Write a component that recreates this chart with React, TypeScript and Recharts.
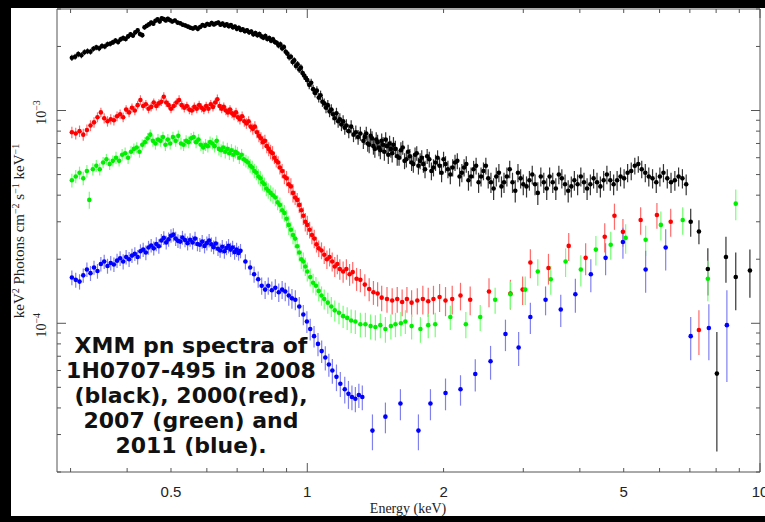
import { ScatterChart, Scatter, XAxis, YAxis, ErrorBar } from "recharts";

// energy (keV), flux (1e-4 keV^2 photons cm^-2 s^-1 keV^-1), error (same units)
const BLACK: [number, number, number][] = [
  [0.302, 17.7, 0.6], [0.307, 17.9, 0.6], [0.312, 18.4, 0.6], [0.317, 18.2, 0.6], [0.322, 18.8, 0.6], [0.327, 19.0, 0.6],
  [0.332, 18.9, 0.6], [0.337, 19.5, 0.6], [0.342, 19.8, 0.6], [0.347, 19.6, 0.6], [0.352, 20.1, 0.6], [0.357, 20.0, 0.6],
  [0.362, 20.5, 0.6], [0.367, 20.6, 0.6], [0.372, 20.9, 0.6], [0.377, 21.3, 0.6], [0.382, 21.0, 0.6], [0.387, 21.6, 0.6],
  [0.392, 21.9, 0.6], [0.397, 21.7, 0.6], [0.402, 22.3, 0.6], [0.407, 22.8, 0.6], [0.412, 22.5, 0.6], [0.417, 23.3, 0.6],
  [0.422, 23.8, 0.6], [0.427, 22.9, 0.6], [0.432, 22.6, 0.6], [0.437, 24.6, 0.6], [0.442, 25.0, 0.6], [0.447, 25.4, 0.6],
  [0.452, 25.9, 0.6], [0.457, 25.6, 0.6], [0.462, 26.4, 0.6], [0.467, 26.8, 0.6], [0.472, 26.2, 0.6], [0.477, 27.1, 0.6],
  [0.482, 26.9, 0.6], [0.487, 26.5, 0.6], [0.492, 27.0, 0.6], [0.497, 26.6, 0.6], [0.503, 26.2, 0.6], [0.51, 26.5, 0.6],
  [0.517, 25.9, 0.6], [0.524, 25.7, 0.6], [0.531, 25.3, 0.6], [0.538, 25.1, 0.6], [0.545, 24.8, 0.6], [0.552, 24.5, 0.6],
  [0.559, 24.3, 0.6], [0.566, 24.6, 0.6], [0.573, 24.2, 0.6], [0.58, 24.7, 0.6], [0.587, 25.2, 0.6], [0.594, 25.0, 0.6],
  [0.601, 25.5, 0.6], [0.608, 25.3, 0.6], [0.615, 25.8, 0.6], [0.622, 25.4, 0.6], [0.629, 25.7, 0.6], [0.636, 25.9, 0.6],
  [0.643, 25.3, 0.6], [0.65, 25.6, 0.6], [0.657, 25.1, 0.6], [0.664, 25.4, 0.6], [0.671, 24.9, 0.6], [0.678, 25.2, 0.6],
  [0.685, 24.6, 0.6], [0.692, 24.8, 0.6], [0.699, 24.2, 0.6], [0.706, 24.5, 0.6], [0.713, 23.9, 0.6], [0.72, 24.1, 0.6],
  [0.728, 23.6, 0.6], [0.736, 23.8, 0.6], [0.744, 23.3, 0.6], [0.752, 23.5, 0.6], [0.76, 22.8, 0.6], [0.768, 23.1, 0.6],
  [0.776, 22.6, 0.6], [0.784, 22.9, 0.6], [0.792, 22.3, 0.6], [0.8, 22.0, 0.6], [0.808, 22.4, 0.6], [0.816, 21.7, 0.6],
  [0.824, 21.9, 0.6], [0.832, 21.3, 0.6], [0.84, 21.6, 0.6], [0.848, 21.0, 0.6], [0.856, 20.8, 0.6], [0.864, 20.2, 0.6],
  [0.872, 20.5, 0.6], [0.88, 19.6, 0.6], [0.888, 19.9, 0.6], [0.896, 18.9, 0.6], [0.904, 18.5, 0.6], [0.912, 17.8, 0.6],
  [0.92, 17.9, 0.6], [0.928, 16.9, 0.6], [0.936, 17.2, 0.6], [0.944, 16.2, 0.6], [0.952, 16.5, 0.6], [0.96, 15.6, 0.6],
  [0.968, 15.9, 0.6], [0.976, 15.0, 0.6], [0.984, 14.6, 0.6], [0.992, 14.2, 0.6], [1.0, 13.9, 0.6], [1.01, 13.2, 0.6],
  [1.02, 13.5, 0.6], [1.03, 12.6, 0.6], [1.04, 12.1, 0.6], [1.05, 12.4, 0.6], [1.06, 11.5, 0.6], [1.07, 11.8, 0.6],
  [1.08, 11.0, 0.6], [1.09, 10.8, 0.6], [1.1, 10.3, 0.6], [1.11, 10.6, 0.6], [1.12, 9.9, 0.6], [1.13, 10.1, 0.6],
  [1.14, 9.6, 0.6], [1.15, 9.2, 0.6], [1.16, 9.7, 0.6], [1.17, 8.9, 0.6], [1.18, 9.1, 0.6], [1.19, 8.6, 0.6],
  [1.2, 8.9, 0.6], [1.21, 8.3, 0.6], [1.22, 8.5, 0.6], [1.235, 8.0, 0.6], [1.25, 8.4, 0.6], [1.265, 7.7, 0.6],
  [1.28, 7.9, 0.6], [1.295, 7.5, 0.6], [1.31, 7.8, 0.6], [1.33, 7.2, 0.6], [1.35, 7.8, 0.6], [1.37, 6.9, 0.6],
  [1.39, 7.4, 0.6], [1.41, 6.6, 0.6], [1.43, 7.1, 0.6], [1.45, 6.5, 0.6], [1.47, 6.9, 0.6], [1.49, 7.3, 0.6],
  [1.51, 6.2, 0.6], [1.53, 6.6, 0.6], [1.55, 6.9, 0.6], [1.58, 6.1, 0.6], [1.61, 6.5, 0.6], [1.64, 5.8, 0.5],
  [1.67, 6.4, 0.5], [1.7, 5.7, 0.5], [1.73, 6.2, 0.5], [1.76, 5.5, 0.5], [1.79, 6.0, 0.5], [1.82, 5.3, 0.5],
  [1.86, 5.9, 0.5], [1.9, 5.4, 0.5], [1.94, 6.0, 0.5], [1.98, 5.1, 0.5], [2.02, 5.6, 0.5], [2.07, 5.0, 0.5],
  [2.12, 5.7, 0.5], [2.17, 4.9, 0.5], [2.22, 5.4, 0.5], [2.27, 4.7, 0.5], [2.33, 5.3, 0.5], [2.39, 4.6, 0.5],
  [2.45, 5.2, 0.5], [2.51, 4.8, 0.5], [2.58, 4.3, 0.5], [2.65, 5.1, 0.5], [2.72, 4.6, 0.5], [2.8, 5.3, 0.5],
  [2.88, 4.2, 0.5], [2.96, 4.8, 0.5], [3.05, 4.4, 0.5], [3.14, 5.0, 0.5], [3.23, 4.1, 0.5], [3.33, 4.6, 0.5],
  [3.43, 4.9, 0.5], [3.54, 4.3, 0.5], [3.65, 4.8, 0.5], [3.77, 4.2, 0.5], [3.89, 4.7, 0.5], [4.02, 4.9, 0.5],
  [4.15, 4.3, 0.5], [4.29, 4.8, 0.5], [4.44, 4.4, 0.5], [4.59, 5.0, 0.5], [4.75, 4.5, 0.5], [4.92, 4.9, 0.5],
  [5.1, 5.1, 0.5], [5.29, 5.5, 0.5], [5.48, 5.3, 0.5], [5.68, 4.9, 0.5], [5.9, 4.6, 0.5], [6.12, 5.1, 0.5],
  [6.36, 4.6, 0.5], [6.61, 4.9, 0.5], [6.87, 4.5, 0.5],
  // interleaved bins of the crowded 1.3-7 keV band
  [1.34, 7.5, 0.6], [1.36, 7.0, 0.6], [1.38, 7.6, 0.6], [1.4, 6.8, 0.6], [1.42, 7.3, 0.6], [1.44, 6.7, 0.6],
  [1.46, 7.2, 0.6], [1.48, 6.4, 0.6], [1.5, 6.8, 0.6], [1.52, 7.0, 0.6], [1.54, 6.3, 0.6], [1.565, 6.6, 0.6],
  [1.595, 6.0, 0.5], [1.625, 6.7, 0.5], [1.655, 5.9, 0.5], [1.685, 6.1, 0.5], [1.715, 5.6, 0.5], [1.745, 6.3, 0.5],
  [1.775, 5.8, 0.5], [1.805, 5.6, 0.5], [1.84, 6.1, 0.5], [1.88, 5.2, 0.5], [1.92, 5.7, 0.5], [1.96, 5.5, 0.5],
  [2.0, 5.9, 0.5], [2.045, 5.3, 0.5], [2.095, 5.4, 0.5], [2.145, 5.8, 0.5], [2.195, 5.1, 0.5], [2.245, 5.6, 0.5],
  [2.3, 4.9, 0.5], [2.36, 5.5, 0.5], [2.42, 4.9, 0.5], [2.48, 5.5, 0.5], [2.545, 4.6, 0.5], [2.615, 4.9, 0.5],
  [2.685, 4.4, 0.5], [2.76, 4.9, 0.5], [2.84, 4.6, 0.5], [2.92, 5.1, 0.5], [3.0, 4.5, 0.5], [3.095, 4.7, 0.5],
  [3.185, 4.5, 0.5], [3.28, 4.9, 0.5], [3.38, 4.3, 0.5], [3.485, 4.6, 0.5], [3.595, 5.0, 0.5], [3.71, 4.5, 0.5],
  [3.83, 4.4, 0.5], [3.955, 4.5, 0.5], [4.085, 4.6, 0.5], [4.22, 4.5, 0.5], [4.365, 4.6, 0.5], [4.515, 4.7, 0.5],
  [4.67, 4.7, 0.5], [4.835, 4.7, 0.5], [5.01, 4.8, 0.5], [5.195, 5.2, 0.5], [5.385, 5.6, 0.5], [5.58, 5.1, 0.5],
  [5.79, 4.8, 0.5], [6.01, 4.9, 0.5], [6.24, 4.8, 0.5], [6.485, 4.7, 0.5], [6.74, 4.8, 0.5],
  [7.03, 3.0, 0.45], [7.33, 2.7, 0.35], [7.67, 1.8, 0.45], [8.03, 0.58, 0.33], [8.41, 2.05, 0.5], [8.84, 1.65, 0.5], [9.5, 1.77, 0.45],
];

const RED: [number, number, number][] = [
  [0.302, 7.9, 0.5], [0.308, 7.8, 0.5], [0.314, 8.0, 0.5], [0.32, 7.7, 0.5], [0.326, 8.1, 0.5], [0.332, 8.5, 0.5],
  [0.338, 8.8, 0.5], [0.344, 9.3, 0.5], [0.35, 9.8, 0.5], [0.356, 9.2, 0.5], [0.362, 8.9, 0.5], [0.368, 9.1, 0.5],
  [0.374, 9.0, 0.5], [0.38, 9.4, 0.5], [0.386, 9.6, 0.5], [0.392, 9.3, 0.5], [0.398, 10.1, 0.5], [0.404, 9.8, 0.5],
  [0.41, 10.3, 0.5], [0.416, 10.0, 0.5], [0.422, 10.6, 0.5], [0.428, 11.2, 0.6], [0.434, 10.5, 0.5], [0.44, 10.7, 0.5],
  [0.446, 10.2, 0.5], [0.452, 10.4, 0.5], [0.458, 10.9, 0.5], [0.464, 10.5, 0.5], [0.47, 10.8, 0.5], [0.476, 11.0, 0.5],
  [0.482, 11.6, 0.6], [0.488, 10.9, 0.5], [0.494, 10.6, 0.5], [0.5, 10.2, 0.5], [0.507, 10.5, 0.5], [0.514, 10.9, 0.5],
  [0.521, 11.2, 0.6], [0.528, 10.6, 0.5], [0.535, 10.3, 0.5], [0.542, 10.5, 0.5], [0.549, 10.1, 0.5], [0.556, 10.0, 0.5],
  [0.563, 10.4, 0.5], [0.57, 10.2, 0.5], [0.577, 10.6, 0.5], [0.584, 10.3, 0.5], [0.591, 10.1, 0.5], [0.598, 10.5, 0.5],
  [0.605, 10.2, 0.5], [0.612, 10.7, 0.5], [0.619, 10.4, 0.5], [0.626, 10.9, 0.5], [0.633, 11.3, 0.6], [0.64, 10.5, 0.5],
  [0.647, 10.2, 0.5], [0.654, 10.4, 0.5], [0.661, 10.0, 0.5], [0.668, 9.8, 0.5], [0.675, 10.1, 0.5], [0.682, 9.7, 0.5],
  [0.689, 9.5, 0.5], [0.696, 9.8, 0.5], [0.703, 9.3, 0.5], [0.71, 9.1, 0.5], [0.718, 9.4, 0.5], [0.726, 8.9, 0.5],
  [0.734, 8.7, 0.5], [0.742, 8.9, 0.5], [0.75, 8.4, 0.5], [0.758, 8.2, 0.5], [0.766, 8.4, 0.5], [0.774, 7.9, 0.5],
  [0.782, 7.6, 0.5], [0.79, 7.4, 0.5], [0.798, 7.1, 0.5], [0.806, 7.2, 0.5], [0.814, 6.8, 0.5], [0.822, 6.6, 0.5],
  [0.83, 6.4, 0.5], [0.838, 6.3, 0.5], [0.846, 6.0, 0.4], [0.854, 5.8, 0.4], [0.862, 5.7, 0.4], [0.87, 5.4, 0.4],
  [0.88, 5.2, 0.4], [0.89, 4.9, 0.4], [0.9, 4.8, 0.4], [0.91, 4.5, 0.4], [0.92, 4.4, 0.4], [0.93, 4.1, 0.4],
  [0.94, 3.9, 0.3], [0.95, 3.8, 0.3], [0.96, 3.6, 0.3], [0.97, 3.4, 0.3], [0.98, 3.2, 0.3], [0.99, 3.0, 0.3],
  [1.0, 2.9, 0.3], [1.012, 2.75, 0.25], [1.024, 2.6, 0.25], [1.036, 2.5, 0.25], [1.048, 2.35, 0.2], [1.06, 2.25, 0.2],
  [1.075, 2.2, 0.2], [1.09, 2.1, 0.2], [1.105, 2.0, 0.2], [1.12, 2.05, 0.2], [1.135, 1.95, 0.2], [1.15, 1.85, 0.2],
  [1.165, 1.9, 0.2], [1.18, 1.8, 0.2], [1.2, 1.75, 0.2], [1.22, 1.8, 0.2], [1.24, 1.7, 0.2], [1.26, 1.74, 0.2],
  [1.285, 1.62, 0.2], [1.31, 1.6, 0.2], [1.34, 1.52, 0.18], [1.37, 1.45, 0.18], [1.4, 1.4, 0.18], [1.43, 1.38, 0.18],
  [1.46, 1.32, 0.18], [1.5, 1.3, 0.18], [1.54, 1.28, 0.18], [1.58, 1.3, 0.18], [1.62, 1.26, 0.18], [1.66, 1.3, 0.18],
  [1.7, 1.25, 0.18], [1.75, 1.28, 0.18], [1.8, 1.3, 0.2], [1.85, 1.27, 0.2], [1.9, 1.3, 0.2], [1.96, 1.33, 0.2],
  [2.02, 1.28, 0.2], [2.09, 1.3, 0.2], [2.18, 1.35, 0.2], [2.29, 1.29, 0.2], [2.52, 1.41, 0.22], [2.81, 1.38, 0.22],
  [2.99, 1.44, 0.22], [3.11, 1.93, 0.3], [3.41, 1.82, 0.3], [3.78, 2.31, 0.35], [4.12, 2.03, 0.35], [4.54, 2.55, 0.4],
  [4.77, 3.2, 0.45], [4.98, 2.69, 0.4], [5.45, 3.06, 0.45], [5.92, 3.23, 0.45], [6.35, 3.0, 0.45], [7.33, 0.93, 0.22],
];

const GREEN: [number, number, number][] = [
  [0.302, 4.7, 0.35], [0.308, 4.9, 0.35], [0.314, 5.1, 0.35], [0.32, 4.8, 0.35], [0.326, 5.2, 0.35], [0.33, 3.8, 0.35],
  [0.336, 5.3, 0.35], [0.342, 5.5, 0.35], [0.348, 5.3, 0.35], [0.354, 5.7, 0.35], [0.36, 5.9, 0.35], [0.366, 5.6, 0.35],
  [0.372, 5.8, 0.35], [0.378, 6.0, 0.4], [0.384, 5.8, 0.35], [0.39, 6.2, 0.4], [0.396, 6.3, 0.4], [0.402, 6.0, 0.4],
  [0.408, 6.4, 0.4], [0.414, 6.6, 0.4], [0.42, 6.7, 0.4], [0.426, 6.4, 0.4], [0.432, 6.9, 0.4], [0.438, 7.1, 0.4],
  [0.444, 7.4, 0.45], [0.45, 7.7, 0.45], [0.456, 7.2, 0.45], [0.462, 7.0, 0.45], [0.468, 7.3, 0.45], [0.474, 7.2, 0.45],
  [0.48, 7.5, 0.45], [0.486, 6.9, 0.45], [0.492, 7.3, 0.45], [0.498, 7.0, 0.45], [0.505, 7.5, 0.45], [0.512, 7.2, 0.45],
  [0.519, 7.6, 0.45], [0.526, 7.0, 0.45], [0.533, 6.9, 0.45], [0.54, 7.2, 0.45], [0.547, 7.1, 0.45], [0.554, 7.4, 0.45],
  [0.561, 7.5, 0.45], [0.568, 7.1, 0.45], [0.575, 7.3, 0.45], [0.582, 6.9, 0.45], [0.589, 6.7, 0.45], [0.596, 6.9, 0.45],
  [0.603, 6.8, 0.45], [0.61, 7.1, 0.45], [0.617, 7.0, 0.45], [0.624, 6.8, 0.45], [0.631, 7.2, 0.45], [0.638, 6.6, 0.45],
  [0.645, 6.5, 0.45], [0.652, 6.7, 0.45], [0.659, 6.4, 0.45], [0.666, 6.6, 0.45], [0.673, 6.3, 0.45], [0.68, 6.5, 0.45],
  [0.687, 6.2, 0.45], [0.694, 6.4, 0.45], [0.701, 6.3, 0.45], [0.708, 6.0, 0.4], [0.716, 6.2, 0.4], [0.724, 5.9, 0.4],
  [0.732, 5.8, 0.4], [0.74, 5.7, 0.4], [0.748, 5.5, 0.4], [0.756, 5.4, 0.4], [0.764, 5.2, 0.4], [0.772, 5.1, 0.4],
  [0.78, 4.9, 0.4], [0.788, 4.8, 0.4], [0.796, 4.6, 0.4], [0.804, 4.5, 0.35], [0.812, 4.3, 0.35], [0.82, 4.2, 0.35],
  [0.83, 4.1, 0.35], [0.84, 4.0, 0.35], [0.85, 3.9, 0.35], [0.86, 3.7, 0.3], [0.87, 3.6, 0.3], [0.88, 3.4, 0.3],
  [0.89, 3.3, 0.3], [0.9, 3.1, 0.3], [0.91, 2.9, 0.3], [0.92, 2.75, 0.25], [0.93, 2.6, 0.25], [0.94, 2.5, 0.25],
  [0.95, 2.3, 0.22], [0.96, 2.15, 0.2], [0.97, 2.0, 0.2], [0.98, 1.95, 0.2], [0.99, 1.85, 0.18], [1.0, 1.75, 0.18],
  [1.015, 1.65, 0.16], [1.03, 1.55, 0.16], [1.045, 1.5, 0.15], [1.06, 1.42, 0.15], [1.075, 1.35, 0.14], [1.09, 1.3, 0.14],
  [1.11, 1.25, 0.14], [1.13, 1.2, 0.13], [1.15, 1.15, 0.13], [1.175, 1.12, 0.13], [1.2, 1.08, 0.13], [1.225, 1.06, 0.13],
  [1.25, 1.03, 0.13], [1.277, 1.02, 0.13], [1.31, 0.99, 0.13], [1.344, 0.99, 0.13], [1.38, 0.97, 0.13], [1.414, 0.96, 0.13],
  [1.45, 0.98, 0.13], [1.488, 0.94, 0.13], [1.53, 0.97, 0.13], [1.566, 0.99, 0.13], [1.61, 1.0, 0.13], [1.647, 1.02, 0.13],
  [1.7, 0.97, 0.13], [1.778, 0.94, 0.13], [1.85, 0.98, 0.13], [1.917, 0.99, 0.13], [2.07, 1.07, 0.14], [2.24, 0.99, 0.14],
  [2.41, 1.07, 0.15], [2.6, 1.29, 0.18], [2.81, 1.37, 0.2], [3.03, 1.44, 0.22], [3.23, 1.75, 0.25], [3.45, 1.61, 0.25],
  [3.72, 1.95, 0.3], [4.02, 1.79, 0.3], [4.34, 2.22, 0.35], [4.68, 2.34, 0.35], [5.05, 2.52, 0.4], [5.59, 2.47, 0.4],
  [6.04, 2.9, 0.45], [6.75, 3.06, 0.45], [7.67, 1.62, 0.35], [8.84, 3.65, 0.6],
];

const BLUE: [number, number, number][] = [
  [0.302, 1.64, 0.13], [0.308, 1.6, 0.13], [0.314, 1.57, 0.13], [0.32, 1.68, 0.13], [0.326, 1.79, 0.14], [0.332, 1.72, 0.14],
  [0.338, 1.83, 0.14], [0.344, 1.76, 0.14], [0.35, 1.9, 0.15], [0.356, 1.95, 0.15], [0.362, 1.86, 0.15], [0.368, 1.92, 0.15],
  [0.374, 1.89, 0.15], [0.38, 1.97, 0.15], [0.386, 2.02, 0.16], [0.392, 1.95, 0.16], [0.398, 2.05, 0.16], [0.404, 2.0, 0.16],
  [0.41, 2.08, 0.16], [0.416, 2.12, 0.16], [0.422, 2.05, 0.16], [0.428, 2.18, 0.17], [0.434, 2.22, 0.17], [0.44, 2.15, 0.17],
  [0.446, 2.27, 0.17], [0.452, 2.32, 0.17], [0.458, 2.25, 0.17], [0.464, 2.36, 0.18], [0.47, 2.3, 0.18], [0.476, 2.45, 0.18],
  [0.482, 2.52, 0.19], [0.488, 2.4, 0.18], [0.494, 2.48, 0.19], [0.5, 2.58, 0.19], [0.506, 2.61, 0.19], [0.512, 2.5, 0.19],
  [0.518, 2.44, 0.18], [0.524, 2.42, 0.18], [0.53, 2.53, 0.19], [0.537, 2.46, 0.18], [0.544, 2.38, 0.18], [0.551, 2.47, 0.18],
  [0.558, 2.4, 0.18], [0.565, 2.5, 0.19], [0.572, 2.36, 0.18], [0.579, 2.34, 0.18], [0.586, 2.42, 0.18], [0.593, 2.31, 0.18],
  [0.6, 2.38, 0.18], [0.607, 2.45, 0.18], [0.614, 2.35, 0.18], [0.621, 2.28, 0.17], [0.628, 2.37, 0.18], [0.635, 2.24, 0.17],
  [0.642, 2.2, 0.17], [0.649, 2.29, 0.17], [0.656, 2.18, 0.17], [0.663, 2.26, 0.17], [0.67, 2.31, 0.18], [0.677, 2.22, 0.17],
  [0.684, 2.27, 0.17], [0.691, 2.16, 0.17], [0.698, 2.22, 0.17], [0.705, 2.14, 0.17], [0.712, 2.19, 0.17], [0.73, 1.95, 0.16],
  [0.748, 1.83, 0.15], [0.763, 1.7, 0.15], [0.779, 1.61, 0.14], [0.793, 1.5, 0.14], [0.807, 1.44, 0.14], [0.82, 1.5, 0.14],
  [0.835, 1.43, 0.14], [0.85, 1.47, 0.14], [0.865, 1.4, 0.14], [0.88, 1.44, 0.14], [0.894, 1.41, 0.14], [0.91, 1.35, 0.14],
  [0.925, 1.31, 0.14], [0.941, 1.29, 0.14], [0.96, 1.2, 0.13], [0.98, 1.1, 0.12], [0.998, 1.02, 0.12], [1.015, 0.94, 0.11],
  [1.035, 0.87, 0.1], [1.056, 0.8, 0.1], [1.076, 0.74, 0.09], [1.096, 0.69, 0.09], [1.116, 0.64, 0.08], [1.136, 0.6, 0.08],
  [1.16, 0.56, 0.08], [1.183, 0.52, 0.07], [1.21, 0.49, 0.07], [1.233, 0.466, 0.07], [1.255, 0.45, 0.06], [1.277, 0.442, 0.06],
  [1.3, 0.46, 0.06], [1.323, 0.45, 0.06], [1.393, 0.313, 0.06], [1.488, 0.364, 0.06], [1.606, 0.42, 0.07], [1.76, 0.313, 0.06],
  [1.871, 0.42, 0.07], [2.02, 0.47, 0.08], [2.18, 0.49, 0.08], [2.35, 0.578, 0.1], [2.54, 0.663, 0.12], [2.74, 0.89, 0.15],
  [2.93, 0.77, 0.14], [3.11, 1.07, 0.18], [3.36, 1.29, 0.2], [3.63, 1.16, 0.2], [3.91, 1.37, 0.25], [4.23, 1.7, 0.3],
  [4.56, 2.03, 0.35], [4.98, 2.41, 0.4], [5.59, 1.79, 0.4], [6.19, 2.27, 0.5], [7.03, 0.87, 0.2], [7.71, 0.95, 0.28],
  [8.45, 0.98, 0.45],
];

const X_TICKS = [0.3, 0.4, 0.5, 0.6, 0.7, 0.8, 0.9, 1, 2, 3, 4, 5, 6, 7, 8, 9, 10];
const X_LABELS = [0.5, 1, 2, 5, 10];
const Y_TICKS = [
  2e-5, 3e-5, 4e-5, 5e-5, 6e-5, 7e-5, 8e-5, 9e-5, 1e-4,
  2e-4, 3e-4, 4e-4, 5e-4, 6e-4, 7e-4, 8e-4, 9e-4, 1e-3, 2e-3, 3e-3,
];
const Y_LABELS: Record<string, string> = { "0.0001": "\u22124", "0.001": "\u22123" };

const NOTE = ["XMM pn spectra of", "1H0707-495 in 2008", "(black), 2000(red),", "2007 (green) and", "2011 (blue)."];

const AXIS = "#555";

const toRows = (pts: [number, number, number][]) =>
  pts.map(([e, f, d]) => ({ e, f: f * 1e-4, err: d * 1e-4 }));

const isMajor = (v: number) => v === 1 || v === 10 || v === 1e-4 || v === 1e-3;

const BottomTick = (p: any) => {
  const v = p.payload.value;
  const len = isMajor(v) ? 9 : 4;
  return (
    <g>
      <line x1={p.x} x2={p.x} y1={p.y} y2={p.y - len} stroke={AXIS} />
      {X_LABELS.includes(v) && (
        <text x={p.x} y={p.y + 25} textAnchor="middle" fontSize={15} fill="#222"
          fontFamily="'Liberation Sans Narrow', 'Liberation Sans', sans-serif">{v}</text>
      )}
    </g>
  );
};

const TopTick = (p: any) => {
  const len = isMajor(p.payload.value) ? 9 : 4;
  return <line x1={p.x} x2={p.x} y1={p.y} y2={p.y + len} stroke={AXIS} />;
};

const LeftTick = (p: any) => {
  const v = p.payload.value;
  const len = isMajor(v) ? 9 : 4;
  const lab = Y_LABELS[String(v)];
  return (
    <g>
      <line x1={p.x} x2={p.x + len} y1={p.y} y2={p.y} stroke={AXIS} />
      {lab && (
        <text transform={`translate(${p.x - 11},${p.y + 2}) rotate(-90)`} textAnchor="middle" fontSize={14}
          fill="#222" fontFamily="'Liberation Serif', serif">
          10<tspan dy={-6} fontSize={10}>{lab}</tspan>
        </text>
      )}
    </g>
  );
};

const RightTick = (p: any) => {
  const len = isMajor(p.payload.value) ? 9 : 4;
  return <line x1={p.x} x2={p.x - len} y1={p.y} y2={p.y} stroke={AXIS} />;
};

const dot = (color: string) => (p: any) => <circle cx={p.cx} cy={p.cy} r={2.3} fill={color} />;

const SERIES = [
  { name: "2008", rows: toRows(BLACK), color: "#000000", bar: "#333333" },
  { name: "2000", rows: toRows(RED), color: "#ff0000", bar: "#ff6a6a" },
  { name: "2007", rows: toRows(GREEN), color: "#00ee00", bar: "#77ff77" },
  { name: "2011", rows: toRows(BLUE), color: "#0000ff", bar: "#8080f0" },
];

export default function App() {
  return (
    <div style={{ position: "fixed", left: 0, top: 0, width: 765, height: 522, background: "#000", overflow: "hidden" }}>
      <div style={{ position: "absolute", left: 11, top: 8, width: 754, height: 508, background: "#fff" }} />
      <div style={{ position: "absolute", left: 0, top: 0 }}>
        <ScatterChart width={765} height={522} margin={{ top: 8, left: 56, right: 4, bottom: 49 }}>
          <XAxis xAxisId="b" dataKey="e" type="number" scale="log" domain={[0.28, 10]} allowDataOverflow
            ticks={X_TICKS} interval={0} height={1} tickSize={0} tickMargin={0} tick={BottomTick}
            axisLine={{ stroke: AXIS }} tickLine={false} />
          <XAxis xAxisId="t" orientation="top" dataKey="e" type="number" scale="log" domain={[0.28, 10]} allowDataOverflow
            ticks={X_TICKS} interval={0} height={1} tickSize={0} tickMargin={0} tick={TopTick}
            axisLine={{ stroke: AXIS }} tickLine={false} />
          <YAxis yAxisId="l" dataKey="f" type="number" scale="log" domain={[2e-5, 3e-3]} allowDataOverflow
            ticks={Y_TICKS} interval={0} width={1} tickSize={0} tickMargin={0} tick={LeftTick}
            axisLine={{ stroke: AXIS }} tickLine={false} />
          <YAxis yAxisId="r" orientation="right" dataKey="f" type="number" scale="log" domain={[2e-5, 3e-3]} allowDataOverflow
            ticks={Y_TICKS} interval={0} width={1} tickSize={0} tickMargin={0} tick={RightTick}
            axisLine={{ stroke: AXIS }} tickLine={false} />
          {SERIES.map((s) => (
            <Scatter key={s.name} name={s.name} data={s.rows} xAxisId="b" yAxisId="l"
              shape={dot(s.color)} isAnimationActive={false}>
              <ErrorBar dataKey="err" direction="y" width={0} stroke={s.bar} strokeWidth={1.2} />
            </Scatter>
          ))}
        </ScatterChart>
      </div>
      <svg width={765} height={522} style={{ position: "absolute", left: 0, top: 0, pointerEvents: "none" }}>
        <text x={408} y={513} textAnchor="middle" fontSize={14} fill="#222" fontFamily="'Liberation Serif', serif">
          Energy (keV)
        </text>
        <text transform="translate(24,231) rotate(-90)" textAnchor="middle" fontSize={15} fill="#222"
          fontFamily="'Liberation Serif', serif">
          keV<tspan dy={-5} fontSize={10}>2</tspan>
          <tspan dy={5}> Photons cm</tspan><tspan dy={-5} fontSize={10}>{"\u22122"}</tspan>
          <tspan dy={5}> s</tspan><tspan dy={-5} fontSize={10}>{"\u22121"}</tspan>
          <tspan dy={5}> keV</tspan><tspan dy={-5} fontSize={10}>{"\u22121"}</tspan>
        </text>
        {NOTE.map((line, i) => (
          <text key={i} x={191} y={353 + i * 25} textAnchor="middle" fontSize={22} fontWeight="bold" fill="#111"
            fontFamily="'DejaVu Sans', sans-serif">{line}</text>
        ))}
      </svg>
    </div>
  );
}
